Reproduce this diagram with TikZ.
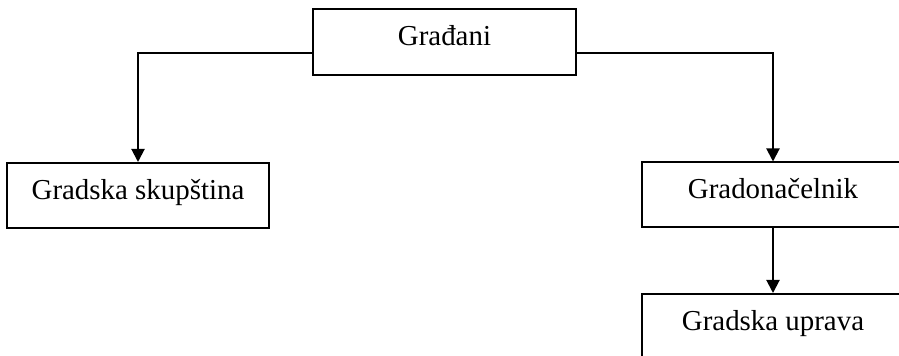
\documentclass[tikz,border=0pt]{standalone}
\usepackage{fontspec}
\setmainfont{Liberation Serif}
\usepackage{tikz}
\usetikzlibrary{arrows.meta, positioning, calc}

\begin{document}
\begin{tikzpicture}[x=0.5pt, y=-0.5pt,
    orgbox/.style={draw, line width=1pt, minimum width=131pt, minimum height=32.5pt,
      inner sep=0pt, text height=0.68em, text depth=0.32em, font=\fontsize{14.45}{17}\selectfont},
    link/.style={line width=1pt, -{Triangle[width=6.5pt, length=6.5pt]}}]
  \fill[white] (0,0) rectangle (899,356);
  \clip (0,0) rectangle (899,356);
  % boxes
  \node[orgbox, minimum width=131.5pt, minimum height=33pt] (citizens) at (444.5,42) {Građani};
  \node[orgbox] (council) at (138,195.5) {Gradska skupština};
  \node[orgbox] (mayor) at (773,195) {Gradonačelnik};
  \node[orgbox] (admin) at (773,326.5) {Gradska uprava};
  % connectors
  \draw[link] ([yshift=-5.5pt]citizens.west) -| (council.north);
  \draw[link] ([yshift=-5.5pt]citizens.east) -| (mayor.north);
  \draw[link] (mayor) -- (admin);
\end{tikzpicture}
\end{document}
